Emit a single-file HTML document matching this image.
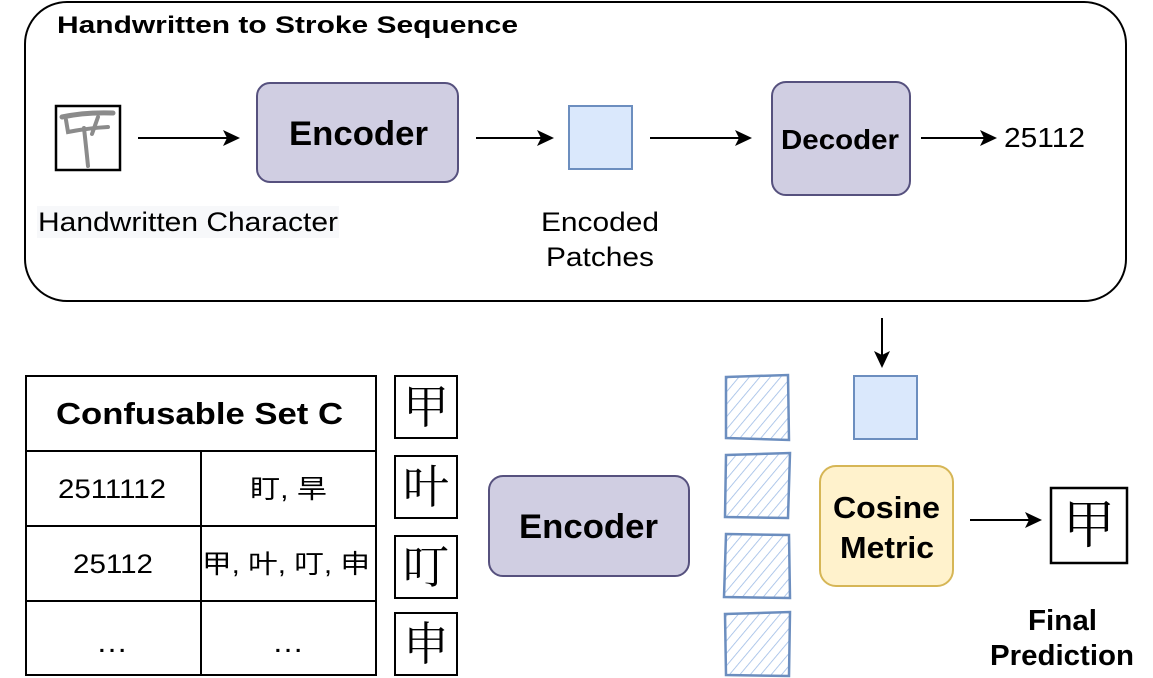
<!DOCTYPE html>
<html><head><meta charset="utf-8"><style>
html,body{margin:0;padding:0;background:#fff;}
svg{display:block;}
text{font-family:"Liberation Sans","Noto Sans CJK SC",sans-serif;}
</style></head><body>
<svg width="1153" height="678" viewBox="0 0 1153 678" xmlns="http://www.w3.org/2000/svg">
<defs>
<pattern id="hatch" patternUnits="userSpaceOnUse" width="8" height="8" patternTransform="rotate(40)">
<line x1="0" y1="0" x2="0" y2="8" stroke="#9dbbe6" stroke-width="1.6"/>
</pattern>
</defs>
<rect x="25" y="2" width="1101" height="299" rx="42" fill="#fff" stroke="#000" stroke-width="2"/>
<text x="57" y="33" font-size="24" font-weight="bold" textLength="461" lengthAdjust="spacingAndGlyphs">Handwritten to Stroke Sequence</text>
<rect x="56" y="106" width="64" height="64" fill="#fff" stroke="#000" stroke-width="2.5"/>
<g stroke="#777" fill="none" stroke-linecap="round" opacity="0.85">
<path d="M62,117 Q85,112 113,113" stroke-width="5"/>
<path d="M66,120 L68,132 Q88,128 108,127" stroke-width="4"/>
<path d="M98,117 L92,134" stroke-width="4"/>
<path d="M84,128 Q86,146 88,166" stroke-width="4"/>
</g>
<rect x="37" y="206" width="302" height="32" fill="#f7f8fa"/>
<text x="38" y="231" font-size="27" textLength="300" lengthAdjust="spacingAndGlyphs">Handwritten Character</text>
<g stroke="#000" stroke-width="2">
<line x1="138" y1="138" x2="228" y2="138"/>
<line x1="476" y1="138" x2="542" y2="138"/>
<line x1="650" y1="138" x2="740" y2="138"/>
<line x1="921" y1="138" x2="985" y2="138"/>
<line x1="882" y1="318" x2="882" y2="356"/>
<line x1="970" y1="520" x2="1030" y2="520"/>
</g>
<g fill="#000">
<path d="M240,138 L223,130 L227,138 L223,146 Z"/>
<path d="M554,138 L537,130 L541,138 L537,146 Z"/>
<path d="M752,138 L735,130 L739,138 L735,146 Z"/>
<path d="M997,138 L980,130 L984,138 L980,146 Z"/>
<path d="M882,368 L874,351 L882,355 L890,351 Z"/>
<path d="M1042,520 L1025,512 L1029,520 L1025,528 Z"/>
</g>
<rect x="257" y="83" width="201" height="99" rx="13" fill="#d0cee2" stroke="#56517e" stroke-width="2"/>
<text x="289" y="145" font-size="34" font-weight="bold" textLength="139" lengthAdjust="spacingAndGlyphs">Encoder</text>
<rect x="569" y="106" width="63" height="63" fill="#dae8fc" stroke="#6c8ebf" stroke-width="2"/>
<text x="541" y="231" font-size="27" textLength="118" lengthAdjust="spacingAndGlyphs">Encoded</text>
<text x="546" y="266" font-size="27" textLength="108" lengthAdjust="spacingAndGlyphs">Patches</text>
<rect x="772" y="82" width="138" height="113" rx="14" fill="#d0cee2" stroke="#56517e" stroke-width="2"/>
<text x="781" y="149" font-size="28" font-weight="bold" textLength="118" lengthAdjust="spacingAndGlyphs">Decoder</text>
<text x="1004" y="147" font-size="28" textLength="81" lengthAdjust="spacingAndGlyphs">25112</text>
<rect x="854" y="376" width="63" height="63" fill="#dae8fc" stroke="#6c8ebf" stroke-width="2"/>
<g stroke="#000" stroke-width="2" fill="none">
<rect x="26" y="376" width="350" height="299" fill="#fff"/>
<line x1="26" y1="451" x2="376" y2="451"/>
<line x1="26" y1="526" x2="376" y2="526"/>
<line x1="26" y1="601" x2="376" y2="601"/>
<line x1="201" y1="451" x2="201" y2="675"/>
</g>
<text x="56" y="424" font-size="31" font-weight="bold" textLength="287" lengthAdjust="spacingAndGlyphs">Confusable Set C</text>
<text x="58" y="498" font-size="27" textLength="108" lengthAdjust="spacingAndGlyphs">2511112</text>
<text x="250" y="498" font-size="26" textLength="77" lengthAdjust="spacingAndGlyphs">盯, 旱</text>
<text x="73" y="573" font-size="27" textLength="80" lengthAdjust="spacingAndGlyphs">25112</text>
<text x="202" y="573" font-size="26" textLength="168" lengthAdjust="spacingAndGlyphs">甲, 叶, 叮, 申</text>
<text x="96" y="652" font-size="30" textLength="32" lengthAdjust="spacingAndGlyphs">…</text>
<text x="272" y="652" font-size="30" textLength="32" lengthAdjust="spacingAndGlyphs">…</text>
<g stroke="#000" stroke-width="2" fill="#fff">
<rect x="395" y="376" width="62" height="62"/>
<rect x="395" y="456" width="62" height="62"/>
<rect x="395" y="536" width="62" height="62"/>
<rect x="395" y="613" width="62" height="62"/>
</g>
<g font-size="46" text-anchor="middle">
<text x="426" y="423" style="font-family:'Noto Serif CJK SC',serif">甲</text>
<text x="426" y="503" style="font-family:'Noto Serif CJK SC',serif">叶</text>
<text x="426" y="583" style="font-family:'Noto Serif CJK SC',serif">叮</text>
<text x="426" y="660" style="font-family:'Noto Serif CJK SC',serif">申</text>
</g>
<rect x="489" y="476" width="200" height="100" rx="14" fill="#d0cee2" stroke="#56517e" stroke-width="2"/>
<text x="519" y="538" font-size="34" font-weight="bold" textLength="139" lengthAdjust="spacingAndGlyphs">Encoder</text>
<g stroke="#6c8ebf" stroke-width="2.5" fill="url(#hatch)">
<path d="M726,377 L788,375 L789,440 L726,438 Z"/>
<path d="M726,455 L790,453 L788,518 L725,517 Z"/>
<path d="M726,534 L789,535 L790,598 L724,597 Z"/>
<path d="M725,614 L790,612 L789,676 L726,675 Z"/>
</g>
<rect x="820" y="466" width="133" height="120" rx="16" fill="#fff2cc" stroke="#d6b656" stroke-width="2"/>
<text x="833" y="518" font-size="31" font-weight="bold" textLength="107" lengthAdjust="spacingAndGlyphs">Cosine</text>
<text x="840" y="558" font-size="31" font-weight="bold" textLength="94" lengthAdjust="spacingAndGlyphs">Metric</text>
<rect x="1051" y="488" width="76" height="75" fill="#fff" stroke="#000" stroke-width="2.5"/>
<text x="1089" y="543" font-size="52" text-anchor="middle" style="font-family:'Noto Serif CJK SC',serif">甲</text>
<text x="1028" y="630" font-size="29" font-weight="bold" textLength="69" lengthAdjust="spacingAndGlyphs">Final</text>
<text x="990" y="665" font-size="29" font-weight="bold" textLength="144" lengthAdjust="spacingAndGlyphs">Prediction</text>
</svg>
</body></html>
